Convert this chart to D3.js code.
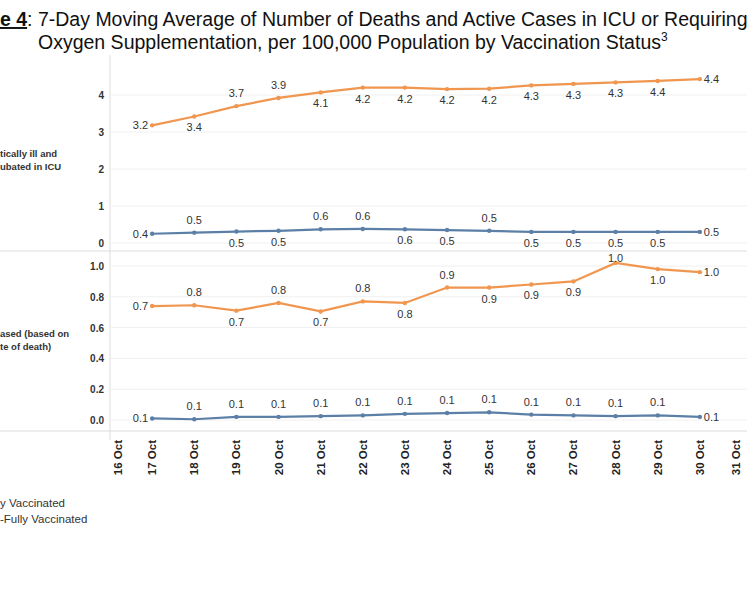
<!DOCTYPE html>
<html><head><meta charset="utf-8">
<script src="https://cdn.jsdelivr.net/npm/d3@7"></script>
<style>body{margin:0;background:#fff;font-family:"Liberation Sans",Arial,sans-serif}</style>
</head><body><div id="chart"></div>
<script>
var days = [17,18,19,20,21,22,23,24,25,26,27,28,29,30];
var tickDays = [16,17,18,19,20,21,22,23,24,25,26,27,28,29,30,31];

// ICU panel
var icuUnvax = [3.18,3.42,3.7,3.92,4.07,4.2,4.2,4.16,4.17,4.26,4.3,4.34,4.38,4.43];
var icuUnvaxLbl = ["3.2","3.4","3.7","3.9","4.1","4.2","4.2","4.2","4.2","4.3","4.3","4.3","4.4","4.4"];
var icuUnvaxPos = ["l","b","a","a","b","b","b","b","b","b","b","b","b","r"];
var icuVax = [0.25,0.28,0.31,0.33,0.37,0.38,0.37,0.35,0.33,0.3,0.3,0.3,0.3,0.3];
var icuVaxLbl = ["0.4","0.5","0.5","0.5","0.6","0.6","0.6","0.5","0.5","0.5","0.5","0.5","0.5","0.5"];
var icuVaxPos = ["l","a","b","b","a","a","b","b","a","b","b","b","b","r"];

// deaths panel
var deathUnvax = [0.74,0.745,0.71,0.76,0.705,0.77,0.76,0.86,0.86,0.88,0.9,1.02,0.98,0.96];
var deathUnvaxLbl = ["0.7","0.8","0.7","0.8","0.7","0.8","0.8","0.9","0.9","0.9","0.9","1.0","1.0","1.0"];
var deathUnvaxPos = ["l","a","b","a","b","a","b","a","b","b","b","o","b","r"];
var deathVax = [0.01,0.005,0.02,0.02,0.025,0.03,0.04,0.045,0.05,0.035,0.03,0.025,0.03,0.02];
var deathVaxLbl = ["0.1","0.1","0.1","0.1","0.1","0.1","0.1","0.1","0.1","0.1","0.1","0.1","0.1","0.1"];
var deathVaxPos = ["l","a","a","a","a","a","a","a","a","a","a","a","a","r"];

var orange = "#f0964f", blue = "#5b7fa6";

var svg = d3.select("#chart").append("svg").attr("width",747).attr("height",598);

// title
var t1 = svg.append("text").attr("x",0).attr("y",26).attr("font-size",19.5).attr("fill","#111");
t1.append("tspan").attr("font-weight","bold").attr("text-decoration","underline").text("e 4");
t1.append("tspan").text(": 7-Day Moving Average of Number of Deaths and Active Cases in ICU or Requiring");
var t2 = svg.append("text").attr("x",38).attr("y",49).attr("font-size",19.5).attr("fill","#111")
  .text("Oxygen Supplementation, per 100,000 Population by Vaccination Status");
t2.append("tspan").attr("font-size",12).attr("dy",-8).text("3");

var x = d3.scaleLinear().domain([16,31]).range([110,742]);

svg.append("line").attr("x1",0).attr("x2",747).attr("y1",251).attr("y2",251).attr("stroke","#ddd");
svg.append("line").attr("x1",0).attr("x2",747).attr("y1",431).attr("y2",431).attr("stroke","#ddd");
svg.append("line").attr("x1",110).attr("x2",110).attr("y1",55).attr("y2",440).attr("stroke","#ddd");

function panel(y, ticks, fmt, series, title, titleY){
  var g = svg.append("g");
  g.selectAll(".grid").data(ticks).enter().append("line")
    .attr("x1",110).attr("x2",747).attr("y1",d=>y(d)).attr("y2",d=>y(d)).attr("stroke","#f0f0f0");
  g.selectAll(".tk").data(ticks).enter().append("text")
    .attr("x",104).attr("y",d=>y(d)+4).attr("text-anchor","end")
    .attr("font-size",10).attr("font-weight","bold").attr("fill","#333").text(fmt);
  title.forEach(function(s,i){
    g.append("text").attr("x",0).attr("y",titleY+i*13).attr("font-size",9.5)
      .attr("font-weight","bold").attr("fill","#333").text(s);
  });
  series.forEach(function(s){
    var line = d3.line().x((d,i)=>x(days[i])).y(d=>y(d));
    g.append("path").datum(s.v).attr("d",line).attr("fill","none").attr("stroke",s.c).attr("stroke-width",2.2);
    g.selectAll(null).data(s.v).enter().append("circle")
      .attr("cx",(d,i)=>x(days[i])).attr("cy",d=>y(d)).attr("r",2.2).attr("fill",s.c);
    g.selectAll(null).data(s.v).enter().append("text")
      .attr("x",function(d,i){var p=s.p[i];return x(days[i])+(p=="l"?-4:p=="r"?4:0);})
      .attr("y",function(d,i){var p=s.p[i];return y(d)+(p=="a"?-9:p=="b"?15:p=="o"?-1:4);})
      .attr("text-anchor",(d,i)=>s.p[i]=="l"?"end":s.p[i]=="r"?"start":"middle")
      .attr("font-size",11).attr("fill","#333").text((d,i)=>s.l[i]);
  });
}

var yTop = d3.scaleLinear().domain([0,4]).range([243,95]);
panel(yTop,[0,1,2,3,4],d3.format("d"),
  [{v:icuUnvax,l:icuUnvaxLbl,p:icuUnvaxPos,c:orange},{v:icuVax,l:icuVaxLbl,p:icuVaxPos,c:blue}],
  ["tically ill and","ubated in ICU"],157);

var yBot = d3.scaleLinear().domain([0,1]).range([420,266]);
panel(yBot,[0,0.2,0.4,0.6,0.8,1.0],d3.format(".1f"),
  [{v:deathUnvax,l:deathUnvaxLbl,p:deathUnvaxPos,c:orange},{v:deathVax,l:deathVaxLbl,p:deathVaxPos,c:blue}],
  ["ased (based on","te of death)"],337);

// x axis labels
svg.selectAll(".xl").data(tickDays).enter().append("text")
  .attr("transform",d=>"translate("+(Math.min(Math.max(x(d),118),736)+4)+",440) rotate(-90)")
  .attr("text-anchor","end").attr("font-size",11.5).attr("font-weight","bold").attr("fill","#222")
  .text(d=>d+" Oct");

// legend
svg.append("text").attr("x",0).attr("y",507).attr("font-size",11.5).attr("fill","#333").text("y Vaccinated");
svg.append("text").attr("x",0).attr("y",523).attr("font-size",11.5).attr("fill","#333").text("-Fully Vaccinated");
</script></body></html>
